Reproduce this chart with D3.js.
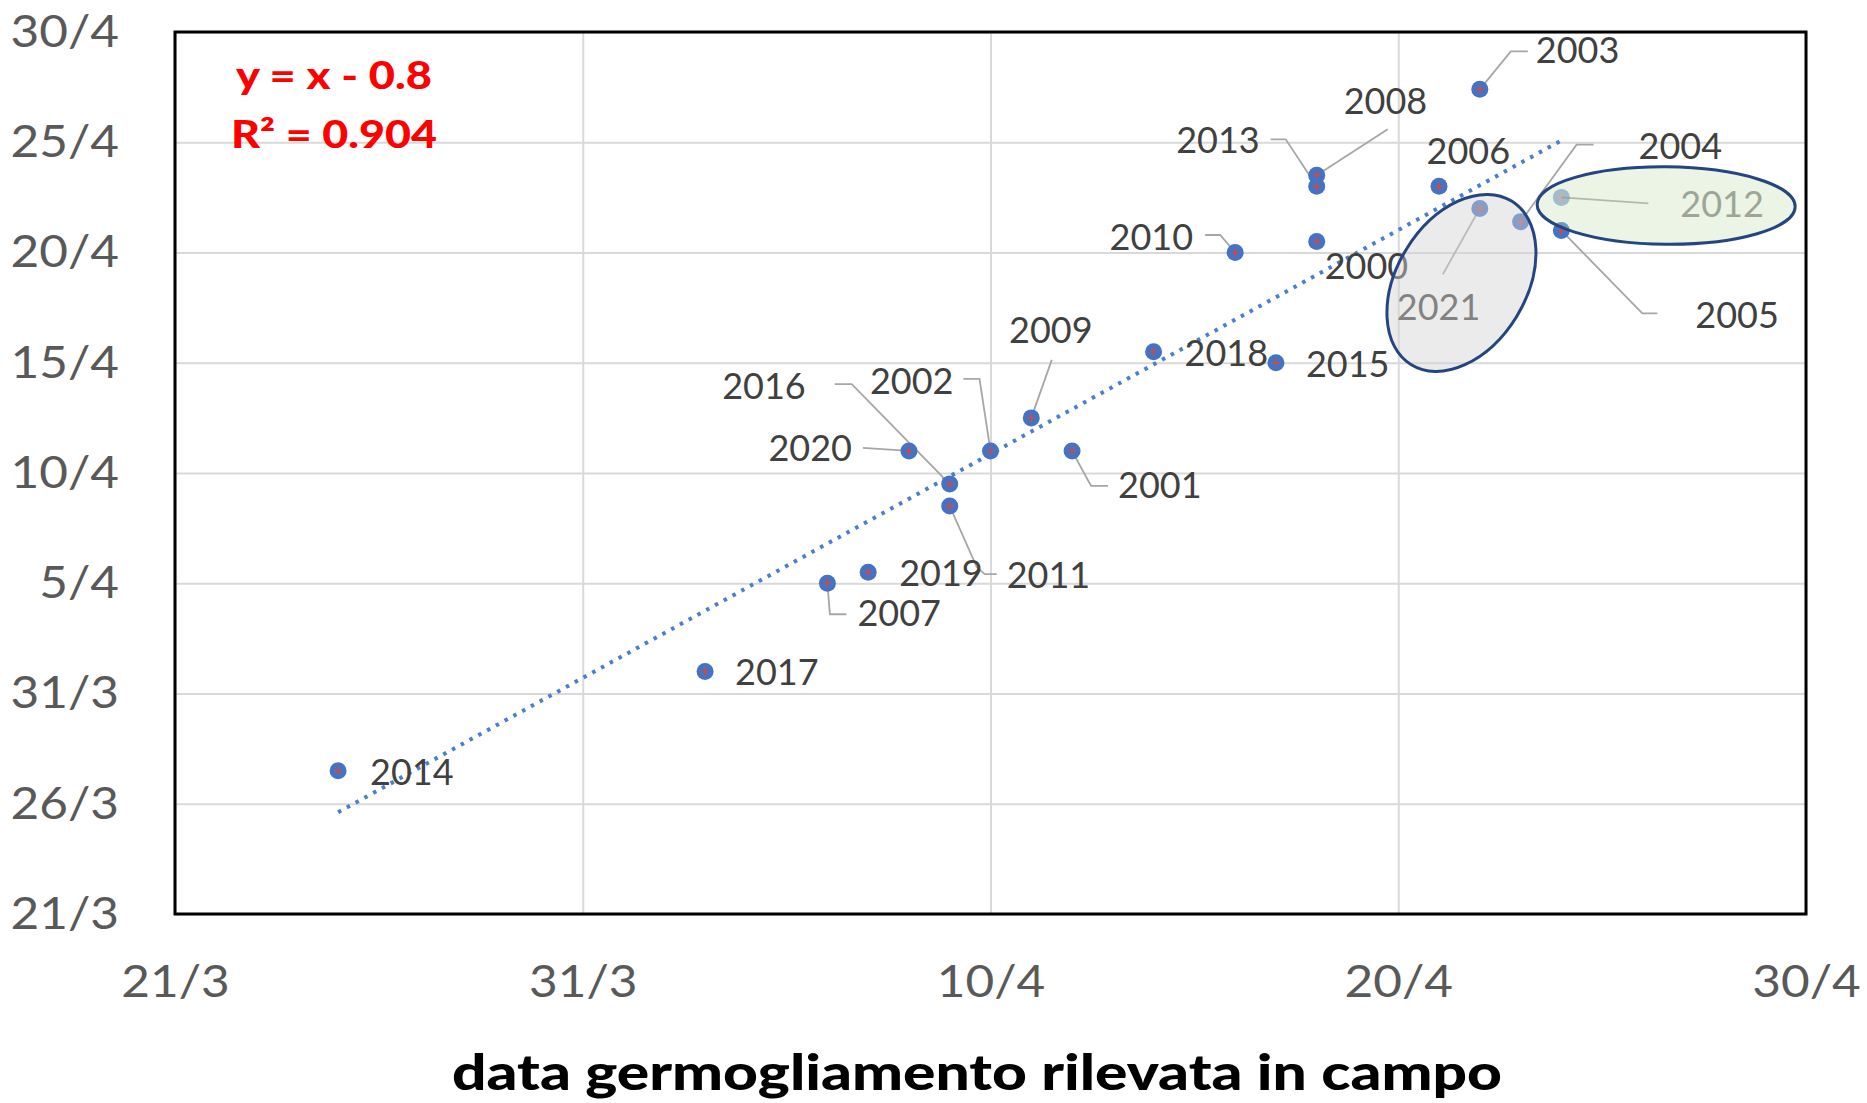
<!DOCTYPE html>
<html>
<head>
<meta charset="utf-8">
<script src="https://cdn.jsdelivr.net/npm/d3@7"></script>
<style>
	body { margin: 0; background: #fff; }
	svg { display: block; }
</style>
</head>
<body>
<svg id="chart" width="1867" height="1103"></svg>
<script>
// dates are day-of-year (non leap year), 80 = 21/3
const years = [2000, 2001, 2002, 2003, 2004, 2005, 2006, 2007, 2008, 2009, 2010,
	2011, 2012, 2013, 2014, 2015, 2016, 2017, 2018, 2019, 2020, 2021]
const fieldDoy = [108, 102, 100, 112, 113, 114, 111, 96, 108, 101, 106,
	99, 114, 108, 84, 107, 99, 93, 104, 97, 98, 112]
const modelDoy = [110.5, 101, 101, 117.4, 111.4, 111, 113, 95, 113.5, 102.5, 110,
	98.5, 112.5, 113, 86.5, 105, 99.5, 91, 105.5, 95.5, 101, 112]
const xTicks = [80, 90, 100, 110, 120]
const yTicks = [80, 85, 90, 95, 100, 105, 110, 115, 120]
const equationLines = ['y = x - 0.8', 'R² = 0.904']
const xTitle = 'data germogliamento rilevata in campo'
const fadedYears = [2012]

// label placement, pixel offsets from the point (layout only)
const labelLayout = {
	2014: { a: 'start', dx: 32, dy: 1 },
	2017: { a: 'start', dx: 30, dy: 1 },
	2007: { a: 'start', dx: 30, dy: 30, lead: [[0, 0], [2.5, 31], [19, 31]] },
	2019: { a: 'start', dx: 31, dy: 1 },
	2020: { a: 'end', dx: -57, dy: -3, lead: [[-46, -3], [0, 0]] },
	2016: { a: 'end', dx: -144, dy: -98, lead: [[-115, -100], [-98, -100], [0, 0]] },
	2011: { a: 'start', dx: 57, dy: 69, lead: [[0, 0], [27, 61], [35, 68], [47, 68]] },
	2002: { a: 'end', dx: -37, dy: -70, lead: [[-27, -72], [-11, -72], [0, 0]] },
	2009: { a: 'middle', dx: 19.5, dy: -88, lead: [[20.5, -58], [0, 0]] },
	2001: { a: 'start', dx: 46, dy: 34, lead: [[0, 0], [19, 35], [36, 35]] },
	2018: { a: 'start', dx: 31, dy: 1 },
	2015: { a: 'start', dx: 30, dy: 1 },
	2010: { a: 'end', dx: -42, dy: -15, lead: [[-30, -17.5], [-15, -17.5], [0, 0]] },
	2000: { a: 'start', dx: 8, dy: 24.5 },
	2013: { a: 'end', dx: -57, dy: -46, lead: [[-46, -47], [-31, -47], [0, 0]] },
	2008: { a: 'start', dx: 27, dy: -74, lead: [[71, -46], [0, 0]] },
	2006: { a: 'start', dx: -12.5, dy: -35 },
	2003: { a: 'start', dx: 56, dy: -39, lead: [[0, 0], [31, -38], [48, -38]] },
	2021: { a: 'start', dx: -83, dy: 99, lead: [[0, 0], [-37, 66]] },
	2004: { a: 'start', dx: 118, dy: -76, lead: [[73, -77], [56, -77], [0, 0]] },
	2012: { a: 'start', dx: 119, dy: 7, lead: [[0, 0], [87, 6]] },
	2005: { a: 'start', dx: 134, dy: 85, lead: [[0, 0], [81, 83], [96, 83]] }
}

// highlight ellipses: centre in chart units, radii in px
const ellipses = [
	{ cx: 111.55, cy: 108.62, rx: 64.6, ry: 96, rot: 31.5, fill: 'rgba(210,210,210,0.45)' },
	{ cx: 116.57, cy: 112.13, rx: 129, ry: 38.7, rot: 0.5, fill: 'rgba(197,224,180,0.35)' }
]

const margin = { top: 32, right: 61, bottom: 189, left: 175 }
const W = 1867, H = 1103
const plotL = margin.left, plotR = W - margin.right
const plotT = margin.top, plotB = H - margin.bottom

const x = d3.scaleLinear().domain([80, 120]).range([plotL, plotR])
const y = d3.scaleLinear().domain([80, 120]).range([plotB, plotT])

const fmt = doy => {
	const d = new Date(2021, 0, doy)
	return d.getDate() + '/' + (d.getMonth() + 1)
}

const svg = d3.select('#chart')
const data = years.map((yr, i) => ({ year: yr, fx: fieldDoy[i], my: modelDoy[i] }))

// grid
svg.append('g')
	.attr('transform', `translate(0,${plotB})`)
	.call(d3.axisBottom(x).tickValues(xTicks).tickSize(-(plotB - plotT)).tickFormat(''))
	.call(g => g.select('.domain').remove())
	.selectAll('line').attr('stroke', '#d9d9d9').attr('stroke-width', 2)

svg.append('g')
	.attr('transform', `translate(${plotL},0)`)
	.call(d3.axisLeft(y).tickValues(yTicks).tickSize(-(plotR - plotL)).tickFormat(''))
	.call(g => g.select('.domain').remove())
	.selectAll('line').attr('stroke', '#d9d9d9').attr('stroke-width', 2)

// linear trend (least squares)
const mx = d3.mean(data, d => d.fx), my = d3.mean(data, d => d.my)
const slope = d3.sum(data, d => (d.fx - mx) * (d.my - my)) / d3.sum(data, d => (d.fx - mx) ** 2)
const icpt = my - slope * mx
const ext = d3.extent(data, d => d.fx)
svg.append('line')
	.attr('x1', x(ext[0])).attr('y1', y(icpt + slope * ext[0]))
	.attr('x2', x(ext[1])).attr('y2', y(icpt + slope * ext[1]))
	.attr('stroke', '#4a7fcb')
	.attr('stroke-width', 4)
	.attr('stroke-dasharray', '3.5 6.5')

// leader lines
const line = d3.line()
svg.append('g')
	.selectAll('path')
	.data(data.filter(d => labelLayout[d.year].lead))
	.enter()
	.append('path')
	.attr('d', d => line(labelLayout[d.year].lead.map(p => [x(d.fx) + p[0], y(d.my) + p[1]])))
	.attr('fill', 'none')
	.attr('stroke', '#a6a6a6')
	.attr('stroke-width', 1.8)

// markers
const pts = svg.append('g')
	.selectAll('g')
	.data(data)
	.enter()
	.append('g')
	.attr('transform', d => `translate(${x(d.fx)},${y(d.my)})`)
	.attr('opacity', d => (fadedYears.includes(d.year) ? 0.6 : 1))
pts.append('circle').attr('r', 8.5).attr('fill', '#4472c4')
pts.append('path').attr('d', 'M-4,0H4M0,-4.5V4.5').attr('stroke', '#c0504d').attr('stroke-width', 1.6)

// data labels
const fs = 36
svg.append('g')
	.selectAll('text')
	.data(data)
	.enter()
	.append('text')
	.attr('x', d => x(d.fx) + labelLayout[d.year].dx)
	.attr('y', d => y(d.my) + labelLayout[d.year].dy + fs * 0.36)
	.attr('text-anchor', d => labelLayout[d.year].a)
	.attr('font-family', 'Lato, sans-serif')
	.attr('font-size', fs)
	.attr('fill', d => (fadedYears.includes(d.year) ? '#868686' : '#404040'))
	.text(d => d.year)

// highlight ellipses
svg.append('g')
	.selectAll('ellipse')
	.data(ellipses)
	.enter()
	.append('ellipse')
	.attr('transform', d => `translate(${x(d.cx)},${y(d.cy)}) rotate(${d.rot})`)
	.attr('rx', d => d.rx)
	.attr('ry', d => d.ry)
	.attr('fill', d => d.fill)
	.attr('stroke', '#24457f')
	.attr('stroke-width', 3)

// plot border
svg.append('rect')
	.attr('x', plotL).attr('y', plotT)
	.attr('width', plotR - plotL).attr('height', plotB - plotT)
	.attr('fill', 'none')
	.attr('stroke', '#000')
	.attr('stroke-width', 3)

// stretch text horizontally like the source
function stretch(sel, k) {
	sel.each(function() {
		const len = this.getComputedTextLength()
		d3.select(this).attr('textLength', len * k).attr('lengthAdjust', 'spacingAndGlyphs')
	})
}

// tick labels
const xAxis = svg.append('g')
	.attr('transform', `translate(0,${plotB})`)
	.call(d3.axisBottom(x).tickValues(xTicks).tickSize(0).tickPadding(51).tickFormat(fmt))
xAxis.select('.domain').remove()
const yAxis = svg.append('g')
	.attr('transform', `translate(${plotL},0)`)
	.call(d3.axisLeft(y).tickValues(yTicks).tickSize(0).tickPadding(56).tickFormat(fmt))
yAxis.select('.domain').remove()
svg.selectAll('.tick text')
	.attr('font-family', 'Lato, sans-serif')
	.attr('font-size', 45)
	.attr('fill', '#595959')
	.call(stretch, 1.1)

// regression equation
const eqWidths = [196, 206]
svg.append('g')
	.selectAll('text')
	.data(equationLines)
	.enter()
	.append('text')
	.attr('x', 334)
	.attr('y', (d, i) => 89 + i * 59)
	.attr('text-anchor', 'middle')
	.attr('font-family', 'Lato, sans-serif')
	.attr('font-weight', 900)
	.attr('font-size', 37)
	.attr('fill', '#ff0000')
	.attr('textLength', (d, i) => eqWidths[i])
	.attr('lengthAdjust', 'spacingAndGlyphs')
	.text(d => d)

// x axis title
svg.append('text')
	.attr('x', 452)
	.attr('y', 1090)
	.attr('font-family', 'Lato, sans-serif')
	.attr('font-weight', 900)
	.attr('font-size', 50)
	.attr('fill', '#000')
	.attr('textLength', 1050)
	.attr('lengthAdjust', 'spacingAndGlyphs')
	.text(xTitle)
</script>
</body>
</html>
